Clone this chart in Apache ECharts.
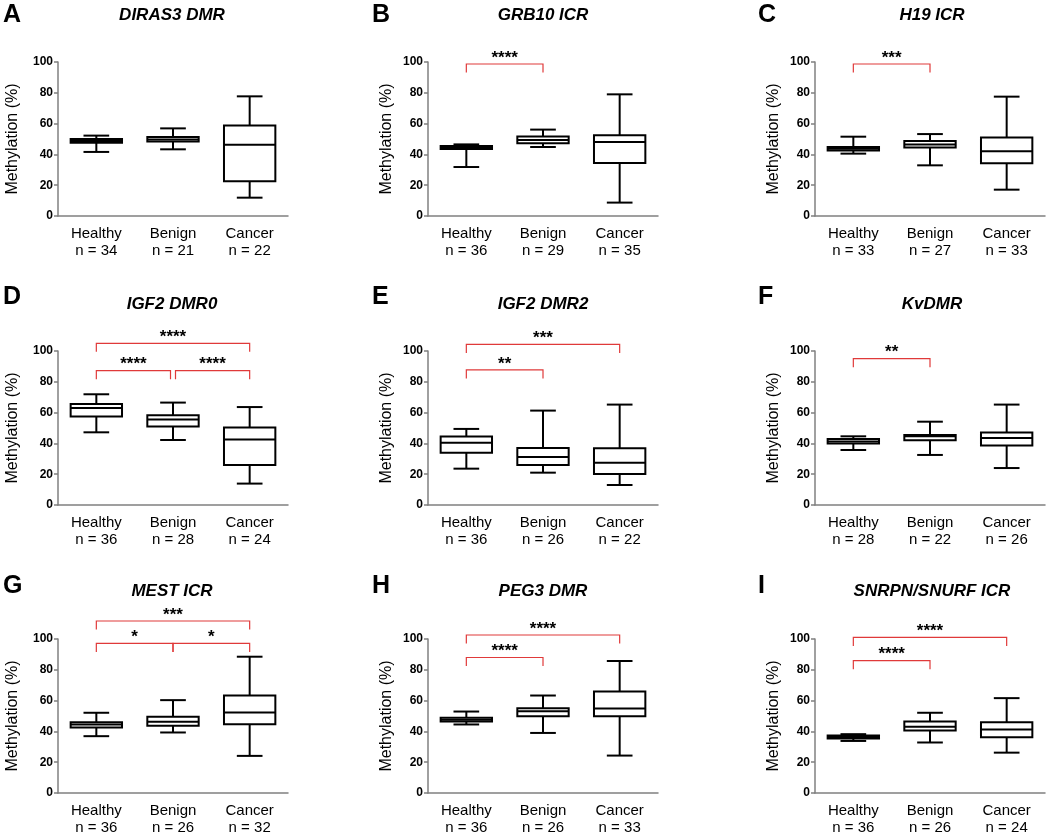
<!DOCTYPE html>
<html>
<head>
<meta charset="utf-8">
<title>Methylation box plots</title>
<script src="https://cdn.jsdelivr.net/npm/echarts@6/dist/echarts.min.js"></script>
<style>
html, body { margin: 0; padding: 0; background: #fff; }
#main { width: 1050px; height: 837px; }
</style>
</head>
<body>
<div id="main"></div>
<script>
// groups and panels
var categories = ['Healthy', 'Benign', 'Cancer'];
var panelLetters = ['A', 'B', 'C', 'D', 'E', 'F', 'G', 'H', 'I'];
var panelTitles = ['DIRAS3 DMR', 'GRB10 ICR', 'H19 ICR', 'IGF2 DMR0', 'IGF2 DMR2', 'KvDMR', 'MEST ICR', 'PEG3 DMR', 'SNRPN/SNURF ICR'];
var sampleSizes = [[34, 21, 22], [36, 29, 35], [33, 27, 33], [36, 28, 24], [36, 26, 22], [28, 22, 26], [36, 26, 32], [36, 26, 33], [36, 26, 24]];

// box values per group: [lower whisker, Q1, median, Q3, upper whisker]
var boxDIRAS3 = [[41.6, 47.6, 48.7, 50.0, 52.2], [43.3, 48.3, 49.6, 51.3, 56.9], [11.9, 22.5, 46.3, 58.7, 77.7]];
var boxGRB10 = [[31.8, 43.5, 44.4, 45.5, 46.5], [44.8, 47.2, 49.4, 51.7, 56.1], [8.7, 34.4, 48.1, 52.4, 79.0]];
var boxH19 = [[40.5, 42.6, 43.7, 44.8, 51.5], [32.9, 44.4, 46.5, 48.7, 53.2], [17.1, 34.2, 42.0, 50.9, 77.5]];
var boxIGF2DMR0 = [[47.2, 57.4, 63.0, 65.6, 71.9], [42.2, 50.9, 55.6, 58.2, 66.5], [13.9, 26.0, 42.6, 50.4, 63.6]];
var boxIGF2DMR2 = [[23.6, 34.0, 40.5, 44.4, 49.4], [21.0, 26.0, 31.2, 37.0, 61.3], [13.0, 20.1, 27.5, 36.8, 65.2]];
var boxKvDMR = [[35.7, 40.0, 41.3, 42.9, 44.6], [32.5, 42.0, 44.6, 45.5, 54.1], [24.0, 38.7, 43.5, 47.0, 65.2]];
var boxMEST = [[36.9, 42.5, 44.5, 46.0, 52.1], [39.3, 43.6, 46.2, 49.5, 60.3], [24.1, 44.7, 52.3, 63.3, 88.5]];
var boxPEG3 = [[44.5, 46.4, 47.5, 48.8, 52.9], [39.0, 49.9, 53.1, 55.1, 63.3], [24.3, 49.9, 54.9, 65.9, 85.7]];
var boxSNRPN = [[33.8, 35.4, 36.4, 37.3, 38.2], [32.8, 40.6, 43.0, 46.4, 52.1], [26.2, 36.2, 41.2, 46.0, 61.6]];

// significance brackets: [from group, to group, bracket level (%), stars]
var sigDIRAS3 = [];
var sigGRB10 = [[0, 1, 98.7, '****']];
var sigH19 = [[0, 1, 98.7, '***']];
var sigIGF2DMR0 = [[0, 2, 105.0, '****'], [0, 1, 87.2, '****'], [1, 2, 87.2, '****']];
var sigIGF2DMR2 = [[0, 2, 104.3, '***'], [0, 1, 87.7, '**']];
var sigKvDMR = [[0, 1, 95.0, '**']];
var sigMEST = [[0, 2, 111.7, '***'], [0, 1, 97.1, '*'], [1, 2, 97.1, '*']];
var sigPEG3 = [[0, 2, 102.6, '****'], [0, 1, 88.0, '****']];
var sigSNRPN = [[0, 2, 101.0, '****'], [0, 1, 85.9, '****']];

var boxSets = [boxDIRAS3, boxGRB10, boxH19, boxIGF2DMR0, boxIGF2DMR2, boxKvDMR, boxMEST, boxPEG3, boxSNRPN];
var sigSets = [sigDIRAS3, sigGRB10, sigH19, sigIGF2DMR0, sigIGF2DMR2, sigKvDMR, sigMEST, sigPEG3, sigSNRPN];

// layout
var FONT = '"Liberation Sans", Arial, sans-serif';
var colLeft = [58, 428, 815];
var rowTop = [62, 351, 639];
var plotW = 230, plotH = 154;
var letterX = [3, 372, 758];
var letterY = [16, 298, 587];
var titleX = [172, 543, 932];
var titleY = [15, 304, 591];
var nameGaps = [37, 33, 33];
var bracketGap = [0, 0, 0, 2.5, 0, 0, 0, 0, 0];
var axisGrey = '#808080';
var bracketRed = '#e03a3a';

function renderBox(params, api) {
    var i = api.value(0);
    var lo = api.coord([i, api.value(1)]);
    var q1 = api.coord([i, api.value(2)]);
    var md = api.coord([i, api.value(3)]);
    var q3 = api.coord([i, api.value(4)]);
    var hi = api.coord([i, api.value(5)]);
    var bw = api.size([1, 0])[0] * 0.67;
    var cx = lo[0];
    var st = { stroke: '#000', lineWidth: 2 };
    return {
        type: 'group',
        children: [
            { type: 'line', shape: { x1: cx, y1: hi[1], x2: cx, y2: q3[1] }, style: st },
            { type: 'line', shape: { x1: cx, y1: q1[1], x2: cx, y2: lo[1] }, style: st },
            { type: 'line', shape: { x1: cx - bw / 4, y1: hi[1], x2: cx + bw / 4, y2: hi[1] }, style: st },
            { type: 'line', shape: { x1: cx - bw / 4, y1: lo[1], x2: cx + bw / 4, y2: lo[1] }, style: st },
            { type: 'rect', shape: { x: cx - bw / 2, y: q3[1], width: bw, height: q1[1] - q3[1] },
              style: { fill: '#fff', stroke: '#000', lineWidth: 2 } },
            { type: 'line', shape: { x1: cx - bw / 2, y1: md[1], x2: cx + bw / 2, y2: md[1] }, style: st }
        ]
    };
}

function bracketRenderer(list, gap) {
    return function (params, api) {
        var b = list[params.dataIndex];
        var p0 = api.coord([b[0], b[2]]);
        var p1 = api.coord([b[1], b[2]]);
        var x0 = p0[0], x1 = p1[0], y = p0[1];
        list.forEach(function (o) {
            if (o !== b && o[2] === b[2]) {
                if (o[1] === b[0]) x0 += gap;
                if (o[0] === b[1]) x1 -= gap;
            }
        });
        return {
            type: 'group',
            children: [
                { type: 'polyline', shape: { points: [[x0, y + 8.5], [x0, y], [x1, y], [x1, y + 8.5]] },
                  style: { stroke: bracketRed, lineWidth: 1.2, fill: null } },
                { type: 'text', x: (x0 + x1) / 2, y: y - 6,
                  style: { text: b[3], font: 'bold 17px ' + FONT, align: 'center', verticalAlign: 'middle', fill: '#000' } }
            ]
        };
    };
}

var grids = [], xAxes = [], yAxes = [], series = [], graphics = [];

panelTitles.forEach(function (title, p) {
    var col = p % 3, row = Math.floor(p / 3);
    grids.push({ left: colLeft[col], top: rowTop[row], width: plotW, height: plotH });
    xAxes.push({
        type: 'category',
        gridIndex: p,
        data: categories,
        axisLine: { lineStyle: { color: axisGrey, width: 1.5 } },
        axisTick: { alignWithLabel: true, length: 5, lineStyle: { color: axisGrey, width: 1.5 } },
        axisLabel: {
            color: '#000', fontSize: 15, lineHeight: 17, margin: 9, fontFamily: FONT,
            formatter: function (v, idx) { return v + '\nn = ' + sampleSizes[p][idx]; }
        },
        splitLine: { show: false }
    });
    yAxes.push({
        type: 'value',
        gridIndex: p,
        min: 0, max: 100, interval: 20,
        name: 'Methylation (%)',
        nameLocation: 'middle',
        nameGap: nameGaps[col],
        nameTextStyle: { color: '#000', fontSize: 16, fontFamily: FONT },
        axisLine: { show: true, lineStyle: { color: axisGrey, width: 1.5 } },
        axisTick: { show: true, length: 4, lineStyle: { color: axisGrey, width: 1.5 } },
        axisLabel: { color: '#000', fontSize: 12, fontWeight: 'bold', margin: 5, fontFamily: FONT },
        splitLine: { show: false }
    });
    series.push({
        type: 'custom',
        xAxisIndex: p, yAxisIndex: p,
        clip: false,
        renderItem: renderBox,
        encode: { x: 0, y: [1, 2, 3, 4, 5] },
        data: boxSets[p].map(function (b, i) { return [i].concat(b); })
    });
    if (sigSets[p].length) {
        series.push({
            type: 'custom',
            xAxisIndex: p, yAxisIndex: p,
            clip: false,
            renderItem: bracketRenderer(sigSets[p], bracketGap[p]),
            encode: { x: [0, 1], y: 2 },
            data: sigSets[p].map(function (b) { return [b[0], b[1], b[2]]; })
        });
    }
    graphics.push({
        type: 'text', left: letterX[col], top: letterY[row] - 13,
        style: { text: panelLetters[p], font: 'bold 25px ' + FONT, fill: '#000' }
    });
    graphics.push({
        type: 'text', x: titleX[col], y: titleY[row],
        style: { text: title, font: 'italic bold 17px ' + FONT, align: 'center', verticalAlign: 'middle', fill: '#000' }
    });
});

var chart = echarts.init(document.getElementById('main'));
chart.setOption({
    animation: false,
    backgroundColor: '#fff',
    grid: grids,
    xAxis: xAxes,
    yAxis: yAxes,
    series: series,
    graphic: graphics
});
</script>
</body>
</html>
